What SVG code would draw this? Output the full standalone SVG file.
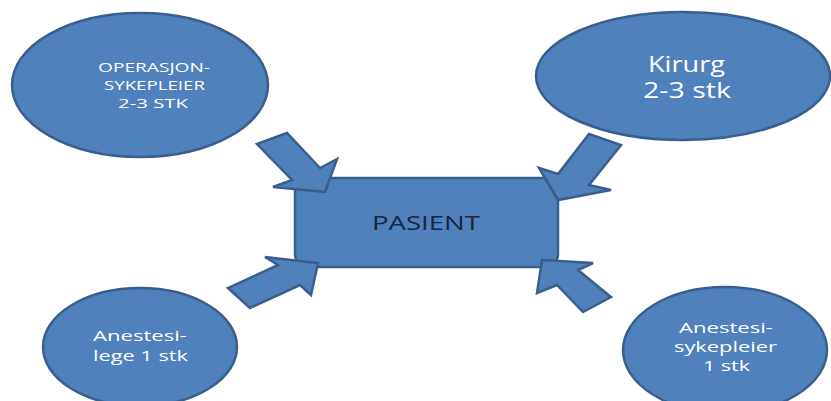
<svg xmlns="http://www.w3.org/2000/svg" width="831" height="401" viewBox="0 0 831 401">
<style>
.shape{fill:#4f81bd;stroke:#3a5f8c;stroke-width:2.5;stroke-linejoin:miter}
.lbl{font-family:"Open Sans","Liberation Sans",sans-serif;fill:#ffffff;text-anchor:start}
.dark{font-family:"Open Sans","Liberation Sans",sans-serif;fill:#17253d}
</style>
<rect width="831" height="401" fill="#ffffff"/>
<g id="node-operasjon">
<ellipse class="shape" cx="140" cy="85" rx="128" ry="72"/>
<text class="lbl" font-size="13.5" x="98" y="72" textLength="112" lengthAdjust="spacingAndGlyphs">OPERASJON-</text>
<text class="lbl" font-size="13.5" x="104" y="90" textLength="101" lengthAdjust="spacingAndGlyphs">SYKEPLEIER</text>
<text class="lbl" font-size="13.5" x="118" y="108" textLength="70" lengthAdjust="spacingAndGlyphs">2-3 STK</text>
</g>
<g id="node-kirurg">
<ellipse class="shape" cx="683" cy="76" rx="147" ry="64"/>
<text class="lbl" font-size="21" x="648" y="72" textLength="77" lengthAdjust="spacingAndGlyphs">Kirurg</text>
<text class="lbl" font-size="21" x="643" y="98" textLength="88" lengthAdjust="spacingAndGlyphs">2-3 stk</text>
</g>
<g id="node-anestesilege">
<ellipse class="shape" cx="140" cy="347" rx="97" ry="59"/>
<text class="lbl" font-size="15" x="93" y="341" textLength="94" lengthAdjust="spacingAndGlyphs">Anestesi-</text>
<text class="lbl" font-size="15" x="93" y="361" textLength="95" lengthAdjust="spacingAndGlyphs">lege 1 stk</text>
</g>
<g id="node-anestesisykepleier">
<ellipse class="shape" cx="725" cy="350" rx="102" ry="63"/>
<text class="lbl" font-size="15" x="679" y="333" textLength="94" lengthAdjust="spacingAndGlyphs">Anestesi-</text>
<text class="lbl" font-size="15" x="674" y="352" textLength="103" lengthAdjust="spacingAndGlyphs">sykepleier</text>
<text class="lbl" font-size="15" x="703" y="371" textLength="47" lengthAdjust="spacingAndGlyphs">1 stk</text>
</g>
<g id="node-pasient">
<rect class="shape" x="295" y="178" width="263" height="89" rx="13" ry="13"/>
<text class="dark" font-size="20" x="372" y="230" textLength="108" lengthAdjust="spacingAndGlyphs">PASIENT</text>
</g>
<g id="connectors">
<polygon class="shape" points="257,144 287,133 320,168 337,159 325,192 273,187 292,180"/>
<polygon class="shape" points="589,134 621,145 589,185 611,190 558,200 539,168 558,174"/>
<polygon class="shape" points="250,308 228,288 278,265 265,257 318,263 311,295 300,285"/>
<polygon class="shape" points="542,260 593,263 578,270 611,297 583,312 557,285 537,293"/>
</g>
</svg>
